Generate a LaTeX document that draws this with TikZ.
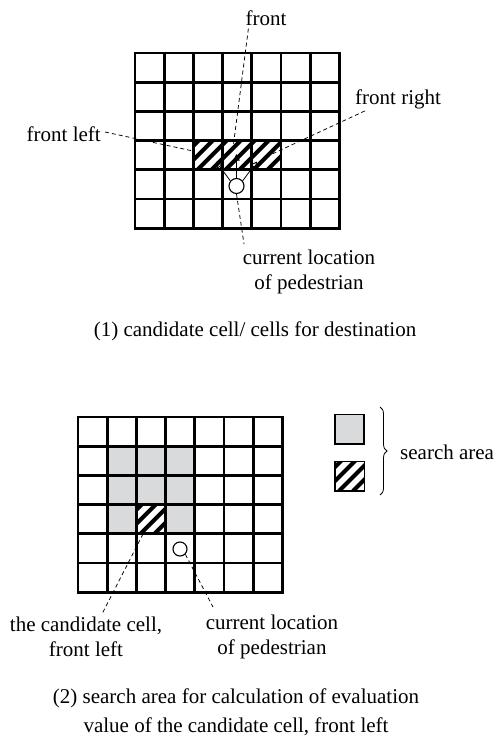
\documentclass[tikz,border=0pt]{standalone}
\usepackage{fontspec}
\setmainfont{Liberation Serif}
\usetikzlibrary{arrows.meta,decorations.pathreplacing}
\definecolor{areagray}{RGB}{217,218,220}
\newcommand\myhatch[4]{%
  \begin{scope}
    \clip (#1,#2) rectangle (#3,#4);
    \foreach \k in {-66,-52,...,120} \draw[line width=4pt] (#1+\k,#4) -- ++(40,-40);
  \end{scope}}
\tikzset{
  gridline/.style={line width=2.7pt, line cap=rect},
  ped/.style={circle, draw, line width=1.1pt, fill=white, minimum size=15pt, inner sep=0pt},
  dash line/.style={line width=0.75pt, dash pattern=on 4pt off 3pt},
  open arrow/.style={line width=0.8pt, -{Triangle[open, length=6.5pt, width=6.5pt]}},
  lab/.style={font=\fontsize{21}{25.5}\selectfont, inner sep=0pt, align=center},
}
\begin{document}
\begin{tikzpicture}[x=1pt,y=-1pt]
\useasboundingbox (0,0) rectangle (497,736);
% ---------- top grid ----------
\myhatch{193.4}{140.6}{281}{169.8}
\foreach \i in {0,...,7} \draw[gridline] (135+\i*29.2,53) -- (135+\i*29.2,228.2);
\foreach \j in {0,...,6} \draw[gridline] (135,53+\j*29.2) -- (339.4,53+\j*29.2);
\node[ped] (p1) at (236.5,186) {};
\coordinate (tl) at (216,161.5);
\coordinate (tf) at (236.5,154);
\coordinate (tr) at (257,161.5);
\draw[open arrow] (p1.140) -- (tl);
\draw[open arrow] (p1.north) -- (tf);
\draw[open arrow] (p1.40) -- (tr);
% labels top
\node[lab] (front) at (266,18) {front};
\node[lab, anchor=east] (fleft) at (101,134) {front left};
\node[lab, anchor=west] (fright) at (355,99) {front right};
\node[lab] (cur1) at (309,272) {current location\\of pedestrian};
\node[lab] (cap1) at (255,331) {(1) candidate cell/ cells for destination};
\coordinate (fe) at (233,148);
\coordinate (fle) at (193,151);
\coordinate (fre) at (270,155);
\coordinate (ce) at (244,244);
\draw[dash line] (front.south west) ++(3,3) -- (fe);
\draw[dash line] (fleft.east) ++(4,-2) -- (fle);
\draw[dash line] (fright.south west) ++(10,2) -- (fre);
\draw[dash line] (p1.south) -- (ce);
% ---------- bottom grid ----------
\fill[areagray] (107.2,446.2) rectangle (194.8,533.8);
\fill[white] (136.4,504.6) rectangle (165.6,533.8);
\myhatch{136.4}{504.6}{165.6}{533.8}
\foreach \i in {0,...,7} \draw[gridline] (78+\i*29.2,417) -- (78+\i*29.2,592.2);
\foreach \j in {0,...,6} \draw[gridline] (78,417+\j*29.2) -- (282.4,417+\j*29.2);
\node[ped, minimum size=14pt] (p2) at (180,549) {};
\coordinate (cc) at (143,534);
\coordinate (cle) at (102,614);
\coordinate (cre) at (213,607);
\draw[dash line] (cc) -- (cle);
\draw[dash line] (p2.-45) -- (cre);
\node[lab] (cand) at (86,637) {the candidate cell,\\front left};
\node[lab] (cur2) at (272,637) {current location\\of pedestrian};
\node[lab, font=\fontsize{21}{29}\selectfont] (cap2) at (236,712) {(2) search area for calculation of evaluation\\value of the candidate cell, front left};
% ---------- legend ----------
\draw[line width=1.8pt, fill=areagray] (335,414.5) rectangle (364,444);
\myhatch{335}{461.5}{364.5}{491}
\draw[line width=1.8pt] (335,461.5) rectangle (364.5,491);
\draw[line width=0.8pt, decorate, decoration={brace, amplitude=7pt}] (380,407) -- (380,495) coordinate[midway] (bm);
\node[lab, anchor=west] (sa) at (400,452) {search area};
\end{tikzpicture}
\end{document}
